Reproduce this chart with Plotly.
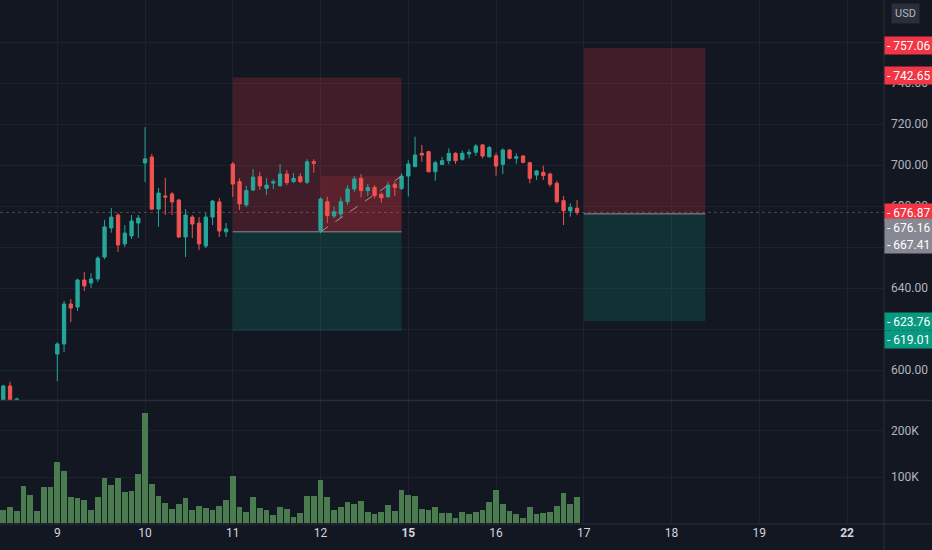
import plotly.graph_objects as go

# ---------------- data (30-minute bars, 13 per session) ----------------
bar_index = list(range(86))

open_ = [582.0, 592.2, 584.8, 584.0, 578.0, 580.0, 577.0, 581.0,
         607.8, 612.7, 632.2, 630.7, 643.9, 642.4, 644.4, 655.1, 669.3, 675.6, 661.5, 665.4, 671.7,
         701.0, 703.9, 678.5, 684.9, 685.9, 682.9, 664.9, 674.6, 671.7, 660.5, 674.6, 682.0, 667.4,
         700.5, 691.9, 680.5, 687.8, 694.3, 688.6, 691.2, 689.9, 695.6, 691.9, 694.3, 691.6, 701.6,
         668.0, 682.1, 675.1, 676.1, 682.1, 688.3, 693.5, 687.5, 689.0, 685.7, 684.5, 690.6, 688.6,
         694.6, 699.2, 705.7, 706.5, 696.7, 700.3, 702.1, 705.7, 702.8, 705.4, 706.2, 709.8, 704.0,
         704.5, 700.3, 707.3, 703.3, 704.4, 701.1, 695.1, 696.4, 695.6, 691.1, 682.6, 677.6, 678.9]

high = [592.8, 594.3, 586.5, 585.0, 582.0, 581.0, 583.0, 584.5,
        613.5, 633.7, 634.6, 644.5, 647.8, 647.3, 655.5, 673.2, 679.0, 676.5, 670.7, 675.6, 675.6,
        718.5, 705.4, 688.8, 693.7, 686.8, 683.5, 678.5, 675.6, 674.6, 676.6, 683.0, 683.9, 671.7,
        701.5, 693.5, 689.8, 698.0, 696.7, 693.7, 693.0, 700.5, 697.6, 696.0, 696.0, 702.8, 702.8,
        684.2, 684.6, 679.7, 684.2, 690.2, 694.6, 695.6, 690.7, 690.2, 686.5, 691.9, 691.9, 696.0,
        702.4, 713.8, 709.8, 707.0, 702.1, 704.0, 708.1, 706.2, 707.0, 707.7, 710.2, 710.2, 709.3,
        706.0, 708.1, 707.8, 705.7, 704.9, 701.6, 697.6, 699.7, 696.3, 692.3, 684.9, 681.3, 682.9]

low = [580.0, 583.0, 583.0, 576.0, 575.0, 575.0, 576.0, 579.0,
       594.6, 608.8, 623.4, 628.8, 638.5, 640.0, 643.0, 654.0, 667.0, 657.6, 660.0, 663.9, 664.4,
       691.7, 678.0, 669.8, 675.6, 675.6, 664.4, 655.1, 664.4, 658.5, 659.5, 670.7, 664.9, 664.9,
       684.4, 678.0, 679.5, 687.3, 687.8, 685.4, 688.3, 689.4, 690.2, 691.2, 691.2, 690.7, 696.2,
       666.7, 671.6, 674.0, 674.0, 680.5, 687.0, 684.2, 684.9, 683.8, 681.6, 684.1, 684.9, 687.8,
       684.6, 698.9, 701.6, 696.4, 692.3, 700.0, 700.3, 700.5, 702.1, 703.3, 704.5, 703.3, 703.6,
       694.8, 695.6, 702.8, 700.5, 700.8, 691.1, 692.7, 692.7, 689.4, 681.3, 670.7, 674.8, 675.6]

close = [592.2, 584.0, 585.9, 578.0, 580.0, 577.0, 581.0, 583.0,
         612.7, 632.2, 630.2, 643.9, 641.0, 644.4, 654.6, 669.8, 674.6, 661.0, 666.8, 672.7, 674.1,
         703.0, 678.5, 686.3, 684.4, 682.0, 664.9, 675.6, 671.2, 661.5, 674.6, 682.4, 667.8, 668.8,
         690.7, 681.0, 687.5, 694.1, 689.8, 690.2, 691.8, 695.6, 691.4, 693.5, 691.9, 701.6, 700.8,
         683.4, 675.3, 677.2, 682.1, 688.3, 693.2, 687.5, 689.0, 685.1, 684.0, 690.2, 689.0, 694.6,
         700.5, 704.9, 704.9, 696.7, 701.1, 702.1, 705.7, 702.1, 705.7, 706.2, 709.3, 704.4, 708.5,
         699.5, 707.3, 703.3, 704.0, 701.3, 693.5, 697.1, 694.8, 690.6, 682.1, 677.7, 679.4, 676.87]

volume = [28000, 34000, 26000, 80000, 62000, 26000, 79000, 78000,
          133000, 112000, 57000, 54000, 50000, 28000, 57000, 97000, 83000, 97000, 68000, 70000, 106000,
          238000, 84000, 59000, 44000, 30000, 42000, 54000, 28000, 37000, 33000, 28000, 37000, 50000,
          102000, 35000, 25000, 57000, 33000, 28000, 17000, 35000, 30000, 14000, 21000, 59000, 59000,
          93000, 57000, 28000, 35000, 45000, 42000, 48000, 25000, 20000, 25000, 39000, 26000, 72000,
          61000, 59000, 30000, 28000, 34000, 21000, 21000, 12000, 23000, 20000, 25000, 28000, 46000,
          72000, 41000, 26000, 19000, 10000, 35000, 20000, 21000, 23000, 37000, 66000, 41000, 56000]

day_ticks = [8, 21, 34, 47, 60, 73, 86, 99, 112, 125]
day_labels = ["9", "10", "11", "12", "<b>15</b>", "16", "17", "18", "19", "<b>22</b>"]

price_ticks = [600, 620, 640, 660, 680, 700, 720, 740, 760]
volume_ticks = [100000, 200000]
volume_tick_labels = ["100K", "200K"]

# short-position tools: [start bar, end bar, stop, entry, target]
position_1 = [34, 59, 742.65, 667.41, 619.01]
position_2 = [86, 104, 757.06, 676.16, 623.76]
# open P&L zone of position 1: [from bar, to bar, last price]
pnl_zone = [47, 59, 694.6]
last_price = 676.87

label_prices = [757.06, 742.65, 676.87, 676.16, 667.41, 623.76, 619.01]
label_colors = ["#f23645", "#f23645", "#f23645", "#868993", "#868993", "#089981", "#089981"]
label_shift = [3, 2, 0, -14, -13, 0, -8]

# ---------------- style ----------------
BG = "#131722"
GRID = "#1e2230"
UP = "#26a69a"
DOWN = "#ef5350"
VOL = "#4a7c50"
AXIS_TXT = "#b2b5be"
FONT = "Roboto, 'Noto Sans', sans-serif"

fig = go.Figure()
fig.add_trace(go.Candlestick(
    x=bar_index, open=open_, high=high, low=low, close=close,
    increasing=dict(line=dict(color=UP, width=1), fillcolor=UP),
    decreasing=dict(line=dict(color=DOWN, width=1), fillcolor=DOWN),
    whiskerwidth=0, xaxis="x", yaxis="y", hoverinfo="skip", showlegend=False))
fig.add_trace(go.Bar(
    x=bar_index, y=volume, width=0.84, marker=dict(color=VOL, line=dict(width=0)),
    xaxis="x", yaxis="y2", hoverinfo="skip", showlegend=False))

shapes = []
RED_FILL = "rgba(242,54,69,0.2)"
GREEN_FILL = "rgba(8,153,129,0.2)"
for p in (position_1, position_2):
    s, e, stop, entry, target = p
    shapes.append(dict(type="rect", xref="x", yref="y", x0=s, x1=e, y0=entry, y1=stop,
                       fillcolor=RED_FILL, line=dict(width=0), layer="between"))
    shapes.append(dict(type="rect", xref="x", yref="y", x0=s, x1=e, y0=target, y1=entry,
                       fillcolor=GREEN_FILL, line=dict(width=0), layer="between"))
    shapes.append(dict(type="line", xref="x", yref="y", x0=s, x1=e, y0=entry, y1=entry,
                       line=dict(color="#8d909a", width=1), layer="between"))
shapes.append(dict(type="rect", xref="x", yref="y", x0=pnl_zone[0], x1=pnl_zone[1],
                   y0=position_1[3], y1=pnl_zone[2], fillcolor="rgba(242,54,69,0.16)",
                   line=dict(width=0), layer="between"))
shapes.append(dict(type="line", xref="x", yref="y", x0=pnl_zone[0], x1=pnl_zone[1],
                   y0=position_1[3], y1=pnl_zone[2],
                   line=dict(color="#9598a1", width=1, dash="dash"), layer="above"))
# last price dotted line
shapes.append(dict(type="line", xref="paper", yref="y", x0=0, x1=1, y0=last_price, y1=last_price,
                   line=dict(color="rgba(200,110,120,0.45)", width=1, dash="dot"), layer="above"))
# pane separators and frame lines
PLOT_H = 524
shapes.append(dict(type="line", xref="paper", yref="paper", x0=0, x1=1.06,
                   y0=(PLOT_H - 400.5) / PLOT_H, y1=(PLOT_H - 400.5) / PLOT_H,
                   line=dict(color="#2a2e39", width=1.5)))
shapes.append(dict(type="line", xref="paper", yref="paper", x0=0, x1=1.06, y0=0, y1=0,
                   line=dict(color="#2a2e39", width=1)))
shapes.append(dict(type="line", xref="paper", yref="paper", x0=1, x1=1, y0=-0.06, y1=1,
                   line=dict(color="#2a2e39", width=1)))

annotations = []
for price, col, sh in zip(label_prices, label_colors, label_shift):
    annotations.append(dict(
        xref="paper", yref="y", x=1, y=price, xanchor="left", yanchor="middle", yshift=sh,
        text="- " + f"{price:.2f}", showarrow=False, align="left",
        bgcolor=col, width=44, height=13, borderpad=2,
        font=dict(color="#ffffff", size=12, family=FONT)))
annotations.append(dict(
    xref="paper", yref="paper", x=906 / 884, y=(PLOT_H - 14) / PLOT_H,
    xanchor="center", yanchor="middle", text="USD", showarrow=False,
    bgcolor="#2a2e39", borderpad=3, font=dict(color=AXIS_TXT, size=11, family=FONT)))

fig.update_layout(
    width=932, height=550,
    margin=dict(l=0, r=48, t=0, b=26),
    paper_bgcolor=BG, plot_bgcolor=BG,
    font=dict(family=FONT, color=AXIS_TXT, size=12),
    showlegend=False, bargap=0,
    xaxis=dict(range=[-0.49, 130.47], tickmode="array", tickvals=day_ticks, ticktext=day_labels,
               showgrid=True, gridcolor=GRID, gridwidth=1, zeroline=False, showline=False,
               rangeslider=dict(visible=False), anchor="y2", ticks="",
               tickfont=dict(color="#d1d4dc", size=12, family=FONT), fixedrange=True),
    yaxis=dict(domain=[(PLOT_H - 400) / PLOT_H, 1], range=[585.37, 780.49], side="right",
               tickmode="array", tickvals=price_ticks, ticktext=[f"{v:.2f}" for v in price_ticks],
               showgrid=True, gridcolor=GRID, zeroline=False, anchor="x", ticks="",
               ticklabelstandoff=6,
               tickfont=dict(color=AXIS_TXT, size=12, family=FONT)),
    yaxis2=dict(domain=[0, (PLOT_H - 401) / PLOT_H], range=[-2000, 265000], side="right",
                tickmode="array", tickvals=volume_ticks, ticktext=volume_tick_labels,
                showgrid=True, gridcolor=GRID, zeroline=False, anchor="x", ticks="",
                ticklabelstandoff=6,
                tickfont=dict(color=AXIS_TXT, size=12, family=FONT)),
    shapes=shapes, annotations=annotations,
)

fig.write_html("out.html", config={"displayModeBar": False},
               post_script="document.body.style.margin='0px';document.body.style.background='#131722';")
